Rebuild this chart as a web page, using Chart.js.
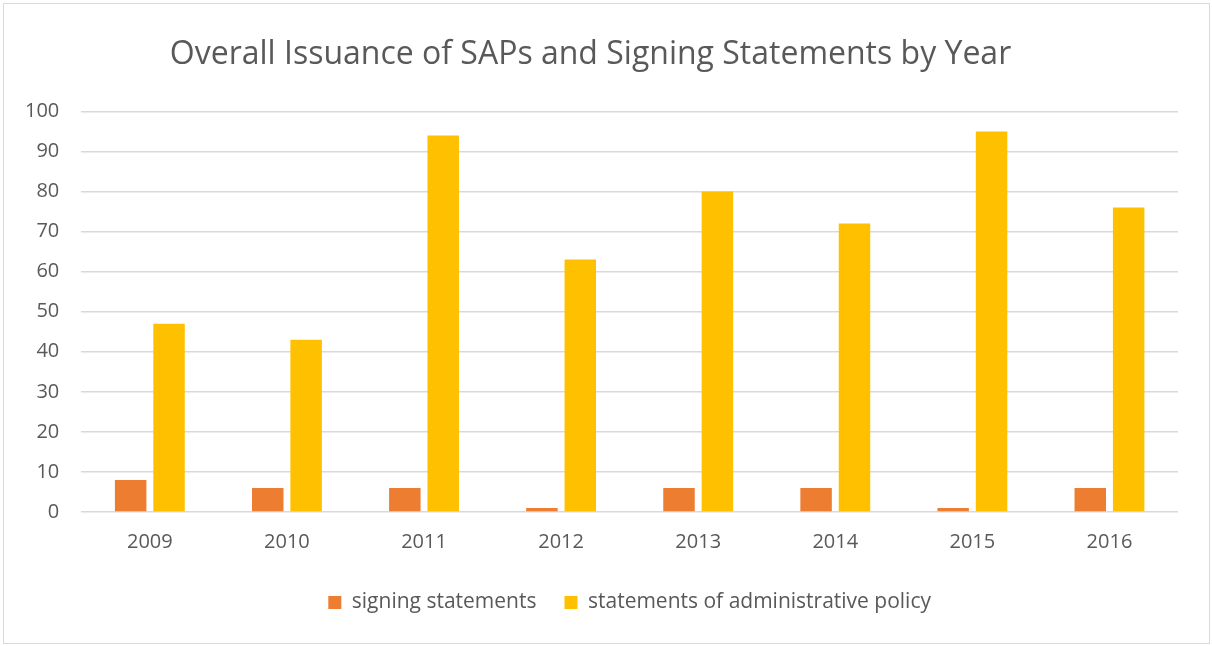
<!DOCTYPE html>
<html>
<head>
<meta charset="utf-8">
<script src="https://cdn.jsdelivr.net/npm/chart.js@4"></script>
<style>
  html, body { margin: 0; padding: 0; background: #fff; }
  #frame { position: absolute; left: 3px; top: 3px; width: 1205px; height: 639px; border: 1px solid #d9d9d9; }
  #wrap { position: absolute; left: 0; top: 0; width: 1212px; height: 646px; }
</style>
</head>
<body>
<div id="frame"></div>
<div id="wrap"><canvas id="sapChart"></canvas></div>
<script>
const years = ['2009', '2010', '2011', '2012', '2013', '2014', '2015', '2016'];
const signingStatements = [8, 6, 6, 1, 6, 6, 1, 6];
const adminPolicy = [47, 43, 94, 63, 80, 72, 95, 76];
const yTicks = [0, 10, 20, 30, 40, 50, 60, 70, 80, 90, 100];

const textGray = '#595959';
const fontFamily = "'Open Sans', 'Liberation Sans', sans-serif";

new Chart(document.getElementById('sapChart'), {
  type: 'bar',
  data: {
    labels: years,
    datasets: [{
      label: 'signing statements',
      data: signingStatements,
      backgroundColor: '#ED7D31',
      categoryPercentage: 0.56,
      barPercentage: 0.82
    }, {
      label: 'statements of administrative policy',
      data: adminPolicy,
      backgroundColor: '#FFC000',
      categoryPercentage: 0.56,
      barPercentage: 0.82
    }]
  },
  options: {
    responsive: true,
    maintainAspectRatio: false,
    animation: false,
    layout: { padding: { left: 3, right: 34, top: 36, bottom: 23 } },
    plugins: {
      title: {
        display: true,
        text: 'Overall Issuance of SAPs and Signing Statements by Year',
        color: textGray,
        font: { family: fontFamily, size: 32, weight: 'normal' },
        padding: { top: 0, bottom: 37 }
      },
      legend: {
        position: 'bottom',
        fullSize: false,
        labels: {
          color: textGray,
          font: { family: fontFamily, size: 21 },
          boxWidth: 13,
          boxHeight: 13,
          padding: 28
        }
      },
      tooltip: { enabled: false }
    },
    scales: {
      x: {
        grid: { display: false },
        border: { display: false },
        ticks: { color: textGray, font: { family: fontFamily, size: 20 }, padding: 10 }
      },
      y: {
        min: 0,
        max: 100,
        afterBuildTicks: axis => { axis.ticks = yTicks.map(v => ({ value: v })); },
        grid: { color: '#d9d9d9', lineWidth: 1.5, drawTicks: false },
        border: { display: false },
        ticks: { color: textGray, font: { family: fontFamily, size: 20 }, padding: 22 }
      }
    }
  }
});
</script>
</body>
</html>
